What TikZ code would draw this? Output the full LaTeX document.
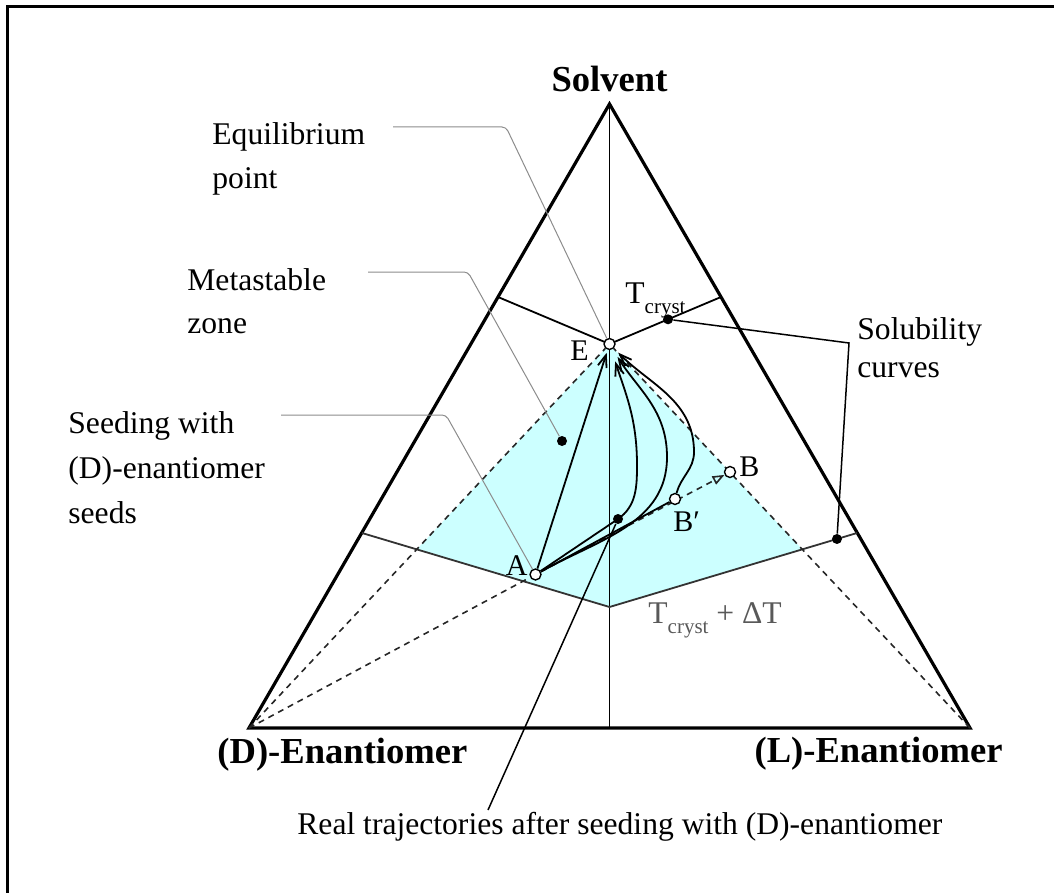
\documentclass[tikz,border=0pt]{standalone}
\usepackage{fontspec}
\setmainfont{Liberation Serif}
\usetikzlibrary{arrows.meta,calc,backgrounds}
\definecolor{zonecyan}{RGB}{204,255,255}
\definecolor{leadergray}{RGB}{140,140,140}
\begin{document}
\begin{tikzpicture}[x=0.5pt,y=-0.5pt,
  ptopen/.style={circle,draw=black,fill=white,line width=0.7pt,minimum size=5.5pt,inner sep=0pt},
  ptdot/.style={circle,fill=black,minimum size=5pt,inner sep=0pt},
  sideln/.style={line width=1.6pt,line join=miter},
  thinln/.style={line width=0.9pt},
  traj/.style={line width=0.9pt,-{Straight Barb[length=6pt,width=4.5pt]}},
  dashln/.style={line width=0.8pt,dash pattern=on 3pt off 2.5pt,black!85},
  leader/.style={line width=0.5pt,leadergray,rounded corners=2pt},
  blackleader/.style={line width=0.75pt,black},
  lab/.style={font=\fontsize{15.8}{19}\selectfont,inner sep=0pt},
  letterlab/.style={font=\fontsize{15}{18}\selectfont,inner sep=0pt},
  cornerlab/.style={font=\bfseries\fontsize{18.3}{22}\selectfont,inner sep=0pt},
]
\useasboundingbox (0,0) rectangle (1054,893);
% frame (only top and left edges visible)
\draw[line width=1.5pt] (7,893) -- (7,7) -- (1054,7);

% geometry
\coordinate (cS) at (609.5,104);
\coordinate (cD) at (249,728);
\coordinate (cL) at (970,728);
\coordinate (cM) at (609.5,728);
\coordinate (cE) at (609.5,344);
\coordinate (tl) at (498,297);
\coordinate (tr) at (721,297);
\coordinate (pL) at (362,533);
\coordinate (pB) at (609.5,607);
\coordinate (pR) at (857,533);

% point nodes
\node[ptopen] (E) at (cE) {};
\node[ptopen] (A) at (535.5,574.5) {};
\node[ptopen] (B) at (730,472) {};
\node[ptopen] (Bp) at (675,499) {};
\node[ptdot] (rt) at (618,519) {};
\node[ptdot] (md) at (562,441) {};
\node[ptdot] (sd1) at ($(cE)!0.525!(tr)$) {};
\node[ptdot] (sd2) at ($(pB)!0.919!(pR)$) {};

% bend points of the trajectories
\coordinate (k1) at (637,465);
\coordinate (k2) at (667,457);
\coordinate (k3) at (694,452);

% leader coordinates
\coordinate (eqS) at (393,127);
\coordinate (eqK) at (506,127);
\coordinate (mzS) at (368,272);
\coordinate (mzK) at (468,272);
\coordinate (sdS) at (281,415);
\coordinate (sdK) at (446,415);
\coordinate (slK) at (849,343);
\coordinate (rtEnd) at (488,810);

\begin{scope}[on background layer]
  % metastable zone
  \fill[zonecyan] (cE) -- (intersection of cD--cE and pL--pB) -- (pB)
     -- (intersection of cL--cE and pR--pB) -- cycle;
  % triangle and axes
  \draw[sideln] (cS) -- (cD) -- (cL) -- cycle;
  \draw[thinln] (cS) -- (cM);
  \draw[thinln] (tl) -- (cE) -- (tr);
  \draw[thinln,black!80] (pL) -- (pB) -- (pR);
  % dashed construction lines
  \draw[dashln] (cD) -- (E);
  \draw[dashln] (cL) -- (E);
  \draw[dashln] (cD) -- (A);
  \draw[dashln,-{Triangle[open,length=6pt,width=4.5pt]}] (A) -- (B);
  % trajectories
  \draw[traj,shorten >=1.5pt] (A) -- (E);
  \draw[traj,shorten >=6pt] (A) -- (rt.center) to[out=35,in=-90] (k1) to[out=90,in=-72] (E);
  \draw[traj,shorten >=4.5pt] (A) to[out=29,in=-90] (k2) to[out=90,in=-58] (E);
  \draw[thinln] (A) -- (Bp);
  \draw[traj,shorten >=3pt] (Bp) to[out=75,in=-90] (k3) to[out=90,in=-45] (E);
  % leaders
  \draw[leader] (eqS) -- (eqK) -- (E);
  \draw[leader] (mzS) -- (mzK) -- (md);
  \draw[leader] (sdS) -- (sdK) -- (A);
  \draw[blackleader] (sd1) -- (slK) -- (sd2);
  \draw[blackleader] (rt) -- (rtEnd);
\end{scope}

% corner labels
\node[cornerlab,anchor=base] (solv) at (609.5,92) {Solvent};
\node[cornerlab,anchor=base west] (den) at (217,763) {(D)-Enantiomer};
\node[cornerlab,anchor=base east] (len) at (1003,762) {(L)-Enantiomer};

% point labels
\node[letterlab,anchor=base east] (Elab) at (589,360) {E};
\node[letterlab,anchor=base east] (Alab) at (528,575) {A};
\node[letterlab,anchor=base west] (Blab) at (739,476) {B};
\node[letterlab,anchor=base west] (Bplab) at (673,531) {B′};

% temperature labels
\node[lab,anchor=base west] (tc) at (625,303) {T{\fontsize{10.5}{12}\selectfont\raisebox{-5pt}{cryst}}};
\node[lab,anchor=base west,text=black!65] (tcd) at (648,623) {T{\fontsize{10.5}{12}\selectfont\raisebox{-5pt}{cryst}} + ΔT};

% callout labels
\node[lab,anchor=base west] (eq1) at (212,145) {Equilibrium};
\node[lab,anchor=base west] (eq2) at (212,189) {point};
\node[lab,anchor=base west] (mz1) at (187,290) {Metastable};
\node[lab,anchor=base west] (mz2) at (187,333) {zone};
\node[lab,anchor=base west] (sd1t) at (68,433) {Seeding with};
\node[lab,anchor=base west] (sd2t) at (68,478) {(D)-enantiomer};
\node[lab,anchor=base west] (sd3t) at (68,523) {seeds};
\node[lab,anchor=base west] (sl1) at (857,339) {Solubility};
\node[lab,anchor=base west] (sl2) at (857,377) {curves};
\node[lab,anchor=base west] (rtt) at (297,834) {Real trajectories after seeding with (D)-enantiomer};
\end{tikzpicture}
\end{document}
